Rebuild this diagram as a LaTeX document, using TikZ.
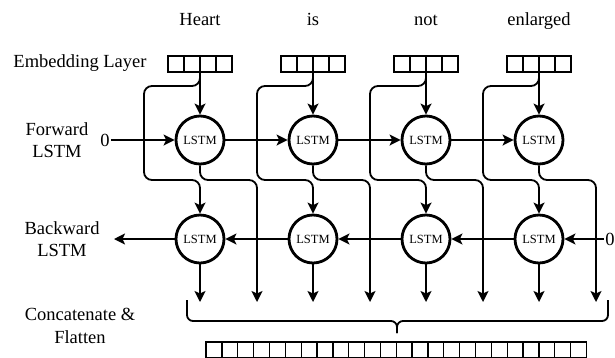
\documentclass[tikz,border=0pt]{standalone}
\usepackage{fontspec}
\setmainfont{Liberation Serif}
\usepackage{tikz}
\usetikzlibrary{positioning}
\usetikzlibrary{arrows.meta}

\begin{document}
\begin{tikzpicture}[x=1pt,y=-1pt]
\tikzset{
    celda/.style={rectangle, draw=black, line width=1.5pt, minimum width=16pt, minimum height=16pt,
                  inner sep=0pt, outer sep=0pt},
    celdab/.style={celda, minimum width=15.85pt, line width=1.3pt},
    lstm/.style={circle, draw=black, line width=2.8pt, minimum size=48pt, inner sep=0pt,
                 font=\fontsize{12.5}{14}\selectfont},
    flecha/.style={-{Stealth[length=11pt,width=11pt,inset=2.5pt]}, line width=1.8pt, rounded corners=8pt},
    etiqueta/.style={align=center, inner sep=1pt, font=\fontsize{18.5}{22.5}\selectfont},
    llave/.style={line width=1.8pt, rounded corners=6pt}
}
\useasboundingbox (0,0) rectangle (615,357);

\node[etiqueta] (emb) at (80,63) {Embedding Layer};
\node[etiqueta] (fwd) at (57,140) {Forward\\LSTM};
\node[etiqueta] (bwd) at (62,239) {Backward\\LSTM};
\node[etiqueta] (cat) at (80,326) {Concatenate \&\\Flatten};

\foreach \w [count=\i] in {Heart,is,not,enlarged} {
  \pgfmathsetmacro{\cx}{87+113*\i}
  \node[etiqueta, anchor=base] (w\i) at (\cx,25) {\w};
  \node[celda] (ea\i) at (\cx-24,64) {};
  \node[celda, right=0pt of ea\i] (eb\i) {};
  \node[celda, right=0pt of eb\i] (ec\i) {};
  \node[celda, right=0pt of ec\i] (ed\i) {};
  \node[lstm] (f\i) at (\cx,140) {LSTM};
  \node[lstm] (b\i) at (\cx,239) {LSTM};
  \coordinate (l\i) at (\cx-56,86);
  \coordinate (m\i) at (\cx,180);
  \coordinate (o\i) at (\cx+57,180);
  \coordinate (p\i) at (\cx+57,302);
  \coordinate (q\i) at (\cx,302);
  \draw[flecha] (eb\i.south east) -- (f\i);
  \draw[flecha] (eb\i.south east) |- (l\i) |- (m\i) -- (b\i);
  \draw[flecha] (f\i) |- (o\i) -- (p\i);
  \draw[flecha] (b\i) -- (q\i);
}

% forward chain
\node[etiqueta] (f0) at (105,140) {0};
\foreach \i [remember=\i as \j (initially 0)] in {1,...,4}
  \draw[flecha] (f\j) -- (f\i);

% backward chain
\node[etiqueta] (b5) at (610,239) {0};
\coordinate (b0) at (114,239);
\foreach \i [remember=\i as \j (initially 5)] in {4,...,0}
  \draw[flecha] (b\j) -- (b\i);

% brace
\coordinate (ll) at (187,300);
\coordinate (lr) at (608,300);
\coordinate (lm) at (397,321);
\coordinate (lp) at (397,333);
\draw[llave] (ll) |- (lm) -- (lp);
\draw[llave] (lr) |- (lm) -- (lp);

% flattened vector
\node[celdab] (c0) at (214,350) {};
\foreach \k [remember=\k as \j (initially 0)] in {1,...,23}
  \node[celdab, right=0pt of c\j] (c\k) {};

\end{tikzpicture}
\end{document}
